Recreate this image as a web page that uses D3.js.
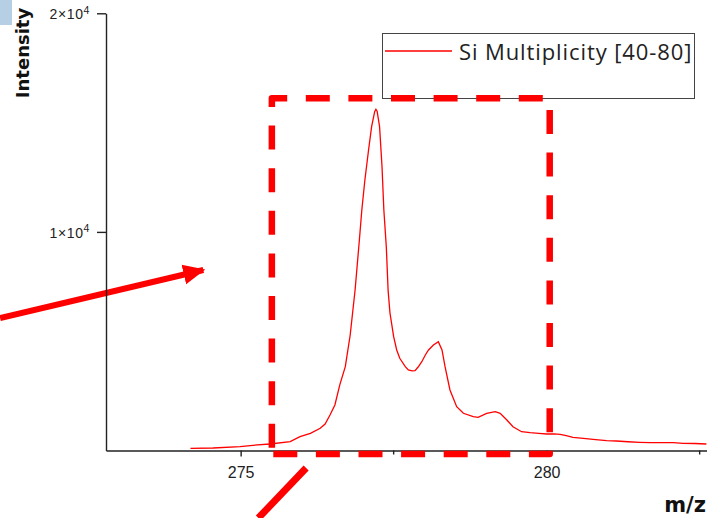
<!DOCTYPE html>
<html>
<head>
<meta charset="utf-8">
<script src="https://cdn.jsdelivr.net/npm/d3@7"></script>
<style>
  body { margin: 0; background: #fff; }
  svg { display: block; }
  .axis path, .axis line { stroke: #222; stroke-width: 1.4; }
  .axis text { fill: #222; font-family: "Liberation Sans", Arial, sans-serif; }
</style>
</head>
<body>
<div id="chart"></div>
<script>
// spectrum (m/z vs counts)
const mz = [274.18, 274.55, 274.99, 275.20, 275.48, 275.81, 275.97, 276.14, 276.30, 276.38,
            276.46, 276.54, 276.62, 276.71, 276.79, 276.87, 276.94, 276.98, 277.03, 277.09,
            277.14, 277.19, 277.21, 277.23, 277.27, 277.31, 277.34, 277.38, 277.41, 277.44,
            277.50, 277.55, 277.60, 277.69, 277.74, 277.80, 277.85, 277.90, 277.96, 278.02,
            278.07, 278.15, 278.23, 278.29, 278.34, 278.42, 278.53, 278.64, 278.80, 278.88,
            279.02, 279.16, 279.24, 279.35, 279.45, 279.59, 279.73, 279.87, 280.00, 280.12,
            280.22, 280.32, 280.43, 280.60, 280.80, 280.98, 281.14, 281.33, 281.52, 281.69,
            281.88, 282.07, 282.23, 282.42, 282.61];
const intensity = [100, 114, 174, 238, 297, 403, 631, 787, 1016, 1212,
                   1624, 2082, 3000, 3834, 5284, 7343, 9630, 11003, 12375, 13748,
                   14814, 15500, 15610, 15520, 14814, 12984, 11003, 9324, 7300, 6291,
                   5206, 4599, 4218, 3834, 3683, 3640, 3651, 3820, 4063, 4380,
                   4598, 4827, 4978, 4598, 3834, 2768, 2004, 1702, 1546, 1519,
                   1702, 1775, 1702, 1395, 1089, 860, 814, 780, 755, 760,
                   740, 680, 604, 558, 500, 448, 435, 400, 375, 357,
                   362, 357, 329, 320, 297];

const xTicks = [275, 280];
const xMinorTicks = [277.5, 282.5];
const yTicks = [10000, 20000];
const yTickMantissa = ["1", "2"];
const legendLabel = "Si Multiplicity [40-80]";

// annotations (in data units)
const boxCorners = [[275.51, -160], [275.51, 16110], [280.05, 16110], [280.05, -160]];
const arrowPts = [[271.07, 6062], [274.39, 8258]];
const slashPts = [[275.29, -3088], [276.07, -801]];

const width = 707, height = 518;

const svg = d3.select("#chart").append("svg")
    .attr("width", width)
    .attr("height", height);

const x = d3.scaleLinear().domain([272.8, 282.62]).range([106, 707]);
const y = d3.scaleLinear().domain([0, 20000]).range([450.5, 13.3]);

// little blue block in the corner
svg.append("rect")
    .attr("x", 0).attr("y", 0)
    .attr("width", 12).attr("height", 25)
    .attr("fill", "#b7cfe5");

// red arrow on the left
svg.append("defs").append("marker")
    .attr("id", "head")
    .attr("markerUnits", "userSpaceOnUse")
    .attr("viewBox", "0 -11 22 22")
    .attr("refX", 20).attr("refY", 0)
    .attr("markerWidth", 22).attr("markerHeight", 22)
    .attr("orient", "auto")
    .append("path")
    .attr("d", "M0,-10L22,0L0,10Z")
    .attr("fill", "#ff0000");

svg.append("line")
    .attr("x1", x(arrowPts[0][0])).attr("y1", y(arrowPts[0][1]))
    .attr("x2", x(arrowPts[1][0])).attr("y2", y(arrowPts[1][1]))
    .attr("stroke", "#ff0000")
    .attr("stroke-width", 6)
    .attr("marker-end", "url(#head)");

svg.append("line")
    .attr("x1", x(slashPts[0][0])).attr("y1", y(slashPts[0][1]))
    .attr("x2", x(slashPts[1][0])).attr("y2", y(slashPts[1][1]))
    .attr("stroke", "#ff0000")
    .attr("stroke-width", 7);

// spectrum
const line = d3.line()
    .x((d, i) => x(mz[i]))
    .y(d => y(d));

svg.append("path")
    .datum(intensity)
    .attr("d", line)
    .attr("fill", "none")
    .attr("stroke", "#ff0000")
    .attr("stroke-width", 1.3);

// axes
const xAxis = svg.append("g")
    .attr("class", "axis")
    .attr("transform", `translate(0,${y(0)})`)
    .call(d3.axisBottom(x).tickValues(xTicks).tickSize(6).tickSizeOuter(0).tickFormat(d3.format("d")));
xAxis.selectAll("text").attr("font-size", 16).attr("dy", "1.15em");

xAxis.selectAll(".minor")
    .data(xMinorTicks)
    .enter().append("line")
    .attr("class", "minor")
    .attr("x1", d => x(d)).attr("x2", d => x(d))
    .attr("y1", 0).attr("y2", 4);

const yAxis = svg.append("g")
    .attr("class", "axis")
    .attr("transform", `translate(${x.range()[0]},0)`)
    .call(d3.axisLeft(y).tickValues(yTicks).tickSize(9).tickSizeOuter(0).tickFormat(""));

yAxis.selectAll(".tick").each(function(d, i) {
  const t = d3.select(this).append("text")
      .attr("x", -16).attr("dy", "0.38em")
      .attr("text-anchor", "end")
      .attr("font-size", 14)
      .attr("letter-spacing", 0.6);
  t.append("tspan").text(yTickMantissa[i] + "×10");
  t.append("tspan").text("4").attr("font-size", 10.5).attr("dy", "-0.5em");
});

// axis titles
svg.append("text")
    .attr("transform", "translate(29,53) rotate(-90)")
    .attr("text-anchor", "middle")
    .attr("font-family", "DejaVu Sans, sans-serif")
    .attr("font-weight", "bold")
    .attr("font-size", 18)
    .attr("fill", "#111")
    .text("Intensity");

svg.append("text")
    .attr("x", 706).attr("y", 512)
    .attr("text-anchor", "end")
    .attr("font-family", "DejaVu Sans, sans-serif")
    .attr("font-weight", "bold")
    .attr("font-size", 21)
    .attr("fill", "#111")
    .text("m/z");

// legend
const legend = svg.append("g");
legend.append("rect")
    .attr("x", 382.5).attr("y", 33.5)
    .attr("width", 312).attr("height", 65)
    .attr("fill", "#fff")
    .attr("stroke", "#444")
    .attr("stroke-width", 1);
legend.append("line")
    .attr("x1", 385).attr("x2", 452)
    .attr("y1", 51).attr("y2", 51)
    .attr("stroke", "#ff0000")
    .attr("stroke-width", 1.3);
legend.append("text")
    .attr("x", 459).attr("y", 59.5)
    .attr("font-family", "Open Sans, sans-serif")
    .attr("font-size", 22)
    .attr("letter-spacing", 0.9)
    .attr("fill", "#222")
    .text(legendLabel);

// dashed highlight box
svg.append("path")
    .attr("d", d3.line().x(d => x(d[0])).y(d => y(d[1])).curve(d3.curveLinearClosed)(boxCorners))
    .attr("fill", "none")
    .attr("stroke", "#ff0000")
    .attr("stroke-width", 6.5)
    .attr("stroke-linejoin", "round")
    .attr("stroke-dasharray", "24 18.6")
    .attr("stroke-dashoffset", 36.4);
</script>
</body>
</html>
